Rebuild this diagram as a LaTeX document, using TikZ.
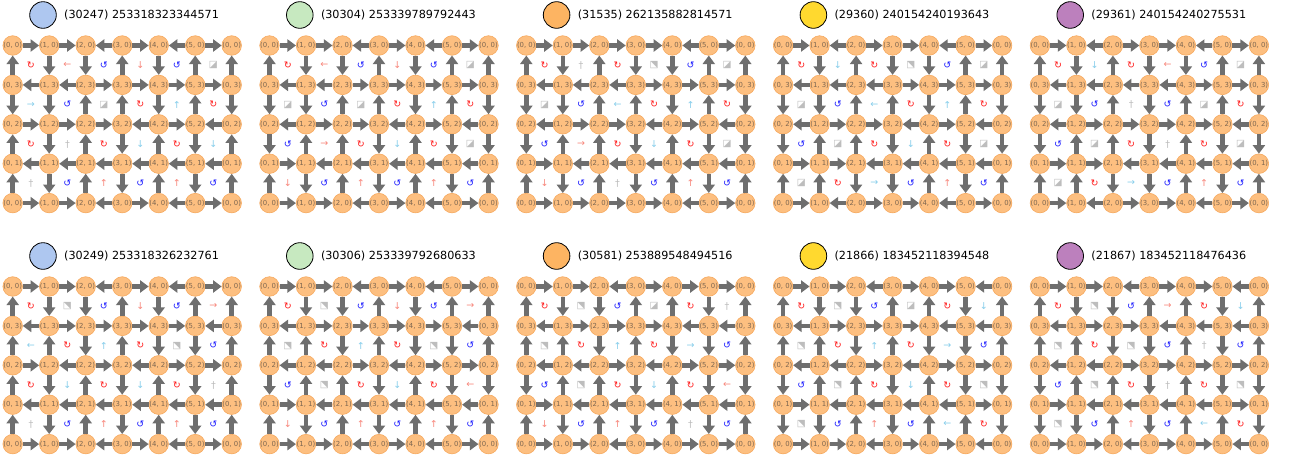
\documentclass[tikz,border=0pt]{standalone}
\usepackage{fontspec}
\setmainfont{DejaVu Sans}
\usetikzlibrary{arrows.meta}
\definecolor{NodeFill}{HTML}{FDBF80}
\definecolor{NodeEdge}{HTML}{F6A95E}
\definecolor{NodeText}{HTML}{7D6650}
\definecolor{FlowGray}{HTML}{6E6E6E}
\definecolor{CwRed}{HTML}{FF1A1A}
\definecolor{CcwBlue}{HTML}{1A1AFF}
\definecolor{ArrSalmon}{HTML}{F8877C}
\definecolor{ArrSky}{HTML}{87CEEB}
\definecolor{SymGray}{HTML}{BDBDBD}
\definecolor{KeyBlue}{HTML}{AEC7F0}
\definecolor{KeyGreen}{HTML}{C7E9C0}
\definecolor{KeyOrange}{HTML}{FDB462}
\definecolor{KeyYellow}{HTML}{FFD92F}
\definecolor{KeyPurple}{HTML}{BC80BD}

% glyphs put in the cells
\newcommand{\symC}{\textcolor{CwRed}{↻}}
\newcommand{\symA}{\textcolor{CcwBlue}{↺}}
\newcommand{\symN}{\textcolor{ArrSalmon}{↑}}
\newcommand{\symS}{\textcolor{ArrSalmon}{↓}}
\newcommand{\symW}{\textcolor{ArrSalmon}{←}}
\newcommand{\symE}{\textcolor{ArrSalmon}{→}}
\newcommand{\symn}{\textcolor{ArrSky}{↑}}
\newcommand{\syms}{\textcolor{ArrSky}{↓}}
\newcommand{\symw}{\textcolor{ArrSky}{←}}
\newcommand{\syme}{\textcolor{ArrSky}{→}}
\newcommand{\symX}{\textcolor{SymGray}{†}}
\newcommand{\symQ}{\textcolor{SymGray}{◪}}
\newcommand{\symP}{\textcolor{SymGray}{⬔}}

\tikzset{
  vertex/.style={circle, minimum size=18pt, inner sep=0pt,
    fill=NodeFill, draw=NodeEdge, line width=0.6pt,
    text=NodeText, font=\fontsize{6.9}{6.9}\selectfont},
  flow/.style={draw=FlowGray, line width=4.6pt,
    -{Triangle[length=8.5pt,width=12pt]}},
  cellmark/.style={inner sep=0pt, font=\fontsize{9.5}{9.5}\selectfont},
  keydot/.style={circle, minimum size=26.6pt, inner sep=0pt,
    draw=black, line width=0.8pt},
  keytext/.style={anchor=west, inner sep=0pt,
    font=\fontsize{11.2}{11.2}\selectfont}
}

% #1 name, #2 #3 offset, #4 colour, #5 title, #6 rows, #7 columns, #8 cells
\newcommand{\flowpanel}[8]{%
  \begin{scope}[shift={(#2,#3)}]
    \node[keydot, fill=#4] (#1-key) at (43,15) {};
    \node[keytext] (#1-title) at (64,15) {#5};
    \foreach \ri/\yl in {0/0,1/3,2/2,3/1,4/0}
      \foreach \ci/\xl in {0/0,1/1,2/2,3/3,4/4,5/5,6/0}
        \node[vertex] (#1-\ci-\ri) at ({12.7+36.5*\ci},{45.5+39.4*\ri}) {(\xl, \yl)};
    % horizontal links, last row repeats the first
    \foreach \hrow [count=\ri from 0] in {#6}
      \foreach \hd [count=\ci from 0] in \hrow {
        \pgfmathtruncatemacro\cn{\ci+1}
        \if R\hd
          \draw[flow] (#1-\ci-\ri) -- (#1-\cn-\ri);
          \ifnum\ri=0 \draw[flow] (#1-\ci-4) -- (#1-\cn-4); \fi
        \else
          \draw[flow] (#1-\cn-\ri) -- (#1-\ci-\ri);
          \ifnum\ri=0 \draw[flow] (#1-\cn-4) -- (#1-\ci-4); \fi
        \fi
      }
    % vertical links, last column repeats the first
    \foreach \vrow [count=\ri from 0] in {#7}
      \foreach \vd [count=\ci from 0] in \vrow {
        \pgfmathtruncatemacro\rn{\ri+1}
        \if U\vd
          \draw[flow] (#1-\ci-\rn) -- (#1-\ci-\ri);
          \ifnum\ci=0 \draw[flow] (#1-6-\rn) -- (#1-6-\ri); \fi
        \else
          \draw[flow] (#1-\ci-\ri) -- (#1-\ci-\rn);
          \ifnum\ci=0 \draw[flow] (#1-6-\ri) -- (#1-6-\rn); \fi
        \fi
      }
    \foreach \srow [count=\ri from 0] in {#8}
      \foreach \sd [count=\ci from 0] in \srow
        \node[cellmark] (#1-s-\ci-\ri) at ({30.95+36.5*\ci},{65.2+39.4*\ri})
          {\csname sym\sd\endcsname};
  \end{scope}
}

\begin{document}
\begin{tikzpicture}[x=1pt, y=-1pt]
  \fill[white] (0,0) rectangle (1290,461);
  \useasboundingbox (0,0) rectangle (1290,461);

  \flowpanel{pa}{0}{0}{KeyBlue}{(30247) 253318323344571}
    {{R,R,L,R,L,R},{L,L,R,R,R,R},{R,R,R,L,R,L},{L,L,L,L,L,L}}
    {{U,D,D,U,D,U},{D,D,U,U,D,U},{U,D,U,D,U,D},{U,D,U,D,U,D}}
    {{C,W,A,S,A,Q},{e,A,Q,C,n,C},{C,X,C,s,C,s},{X,A,N,A,N,A}}
  \flowpanel{pb}{256.8}{0}{KeyGreen}{(30304) 253339789792443}
    {{R,R,L,R,L,R},{L,L,R,R,R,R},{L,R,R,L,R,L},{R,L,L,L,L,L}}
    {{U,D,D,U,D,U},{D,D,U,U,D,U},{D,U,U,D,U,D},{U,D,U,D,U,D}}
    {{C,W,A,S,A,Q},{Q,A,Q,C,n,C},{A,E,C,s,C,Q},{S,A,N,A,N,A}}
  \flowpanel{pc}{513.6}{0}{KeyOrange}{(31535) 262135882814571}
    {{R,R,R,R,L,R},{L,L,L,R,R,R},{L,R,R,L,R,L},{R,L,L,L,L,L}}
    {{U,D,U,D,D,U},{D,D,U,U,D,U},{D,U,U,D,U,D},{U,D,U,D,U,D}}
    {{C,X,C,P,A,Q},{Q,A,w,C,n,C},{A,E,C,s,C,Q},{S,A,X,A,N,A}}
  \flowpanel{pd}{770.4}{0}{KeyYellow}{(29360) 240154240193643}
    {{R,L,R,R,L,R},{L,L,L,R,R,R},{L,R,R,L,R,L},{R,R,L,L,L,L}}
    {{U,D,U,D,D,U},{D,D,U,U,D,U},{D,U,U,D,U,D},{U,U,D,D,U,D}}
    {{C,s,C,P,A,Q},{Q,A,w,C,n,C},{A,Q,C,s,C,Q},{Q,C,e,A,N,A}}
  \flowpanel{pe}{1027.2}{0}{KeyPurple}{(29361) 240154240275531}
    {{R,L,R,R,L,R},{L,L,L,L,R,R},{L,R,R,R,R,L},{R,R,L,L,L,L}}
    {{U,D,U,D,D,U},{D,D,U,D,U,U},{D,U,U,D,U,D},{U,U,D,D,U,D}}
    {{C,s,C,W,A,Q},{Q,A,X,A,Q,C},{A,Q,C,X,C,Q},{Q,C,e,A,N,A}}

  \flowpanel{pf}{0}{241}{KeyBlue}{(30249) 253318326232761}
    {{R,R,L,R,L,R},{L,R,R,R,R,L},{R,L,R,L,R,R},{L,L,L,L,L,L}}
    {{U,D,D,U,D,U},{U,U,D,U,D,D},{U,D,U,D,U,D},{U,D,U,D,U,D}}
    {{C,P,A,S,A,E},{w,C,n,C,P,A},{C,s,C,s,C,X},{X,A,N,A,N,A}}
  \flowpanel{pg}{256.8}{241}{KeyGreen}{(30306) 253339792680633}
    {{R,R,L,R,L,R},{L,R,R,R,R,L},{L,L,R,L,R,R},{R,L,L,L,L,L}}
    {{U,D,D,U,D,U},{U,U,D,U,D,D},{D,U,U,D,U,D},{U,D,U,D,U,D}}
    {{C,P,A,S,A,E},{P,C,n,C,P,A},{A,P,C,s,C,W},{S,A,N,A,N,A}}
  \flowpanel{ph}{513.6}{241}{KeyOrange}{(30581) 253889548494516}
    {{R,R,L,R,R,R},{L,R,R,R,L,L},{L,L,R,L,R,R},{R,L,L,L,L,L}}
    {{U,D,D,U,U,D},{U,U,D,U,D,D},{D,U,U,D,U,D},{U,D,U,D,U,D}}
    {{C,P,A,Q,C,X},{P,C,n,C,e,A},{A,P,C,s,C,W},{S,A,N,A,X,A}}
  \flowpanel{pi}{770.4}{241}{KeyYellow}{(21866) 183452118394548}
    {{R,R,L,R,R,L},{L,R,R,R,L,L},{L,L,R,L,R,R},{R,L,L,L,L,R}}
    {{U,D,D,U,U,D},{U,U,D,U,D,D},{D,U,U,D,U,D},{D,D,U,D,U,U}}
    {{C,P,A,Q,C,s},{P,C,n,C,e,A},{A,P,C,s,C,P},{P,A,N,A,w,C}}
  \flowpanel{pj}{1027.2}{241}{KeyPurple}{(21867) 183452118476436}
    {{R,R,L,R,R,L},{L,R,R,L,L,L},{L,L,R,R,R,R},{R,L,L,L,L,R}}
    {{U,D,D,U,U,D},{U,U,D,D,U,D},{D,U,U,D,U,D},{D,D,U,D,U,U}}
    {{C,P,A,E,C,s},{P,C,P,A,X,A},{A,P,C,X,C,P},{P,A,N,A,w,C}}
\end{tikzpicture}
\end{document}
